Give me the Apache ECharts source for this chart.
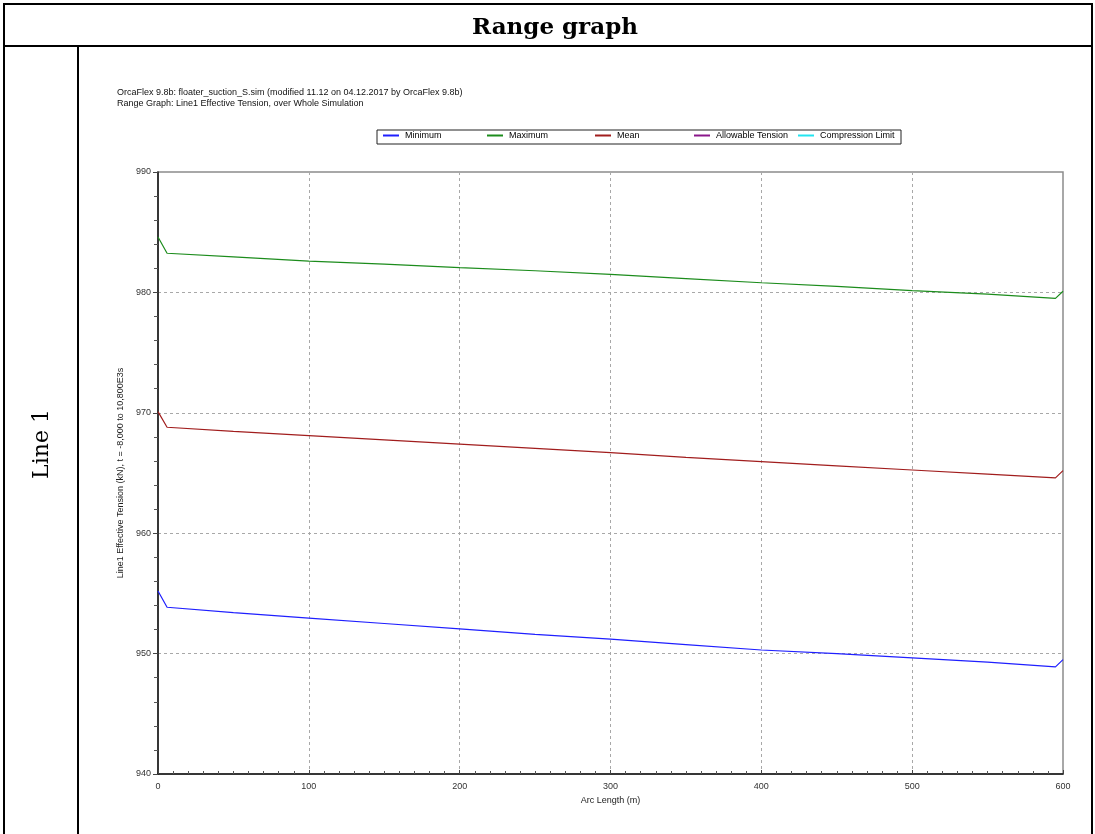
<!DOCTYPE html>
<html>
<head>
<meta charset="utf-8">
<title>Range graph</title>
<script src="https://cdn.jsdelivr.net/npm/echarts@6/dist/echarts.min.js"></script>
<style>
  html, body { margin: 0; padding: 0; background: #fff; }
  #chart { width: 1095px; height: 834px; }
</style>
</head>
<body>
<div id="chart"></div>
<script>
// Arc length stations (m)
const arcLength = [0, 6, 50, 100, 150, 200, 250, 300, 350, 400, 450, 500, 550, 595, 600];

// Effective tension envelopes (kN)
const minimumTension = [955.2, 953.85, 953.4, 952.95, 952.5, 952.05, 951.6, 951.2, 950.75, 950.3, 950.0, 949.65, 949.3, 948.9, 949.5];
const maximumTension = [984.6, 983.25, 982.95, 982.6, 982.35, 982.05, 981.8, 981.5, 981.15, 980.8, 980.5, 980.15, 979.85, 979.5, 980.1];
const meanTension    = [970.1, 968.8, 968.45, 968.1, 967.75, 967.4, 967.05, 966.7, 966.3, 965.95, 965.6, 965.25, 964.9, 964.6, 965.2];

const legendNames = ['Minimum', 'Maximum', 'Mean', 'Allowable Tension', 'Compression Limit'];
const legendColors = ['#1f1fff', '#1c8c1c', '#a11d1d', '#8a168a', '#22e5f0'];
const legendLeft = [383, 487, 595, 694, 798];

const pairs = (ys) => arcLength.map((x, i) => [x, ys[i]]);

const chart = echarts.init(document.getElementById('chart'));

const seriesData = [minimumTension, maximumTension, meanTension, [], []];

const option = {
  animation: false,
  backgroundColor: '#ffffff',
  textStyle: { fontFamily: 'Liberation Sans, Arial, sans-serif' },
  legend: legendNames.map((name, i) => ({
    data: [name],
    left: legendLeft[i],
    top: 131,
    itemWidth: 16,
    itemHeight: 2,
    itemGap: 0,
    icon: 'rect',
    selectedMode: false,
    padding: 0,
    textStyle: { fontSize: 9, color: '#000', fontFamily: 'Liberation Sans, Arial, sans-serif', padding: [0, 0, 0, 1] }
  })),
  grid: {
    left: 158, right: 32, top: 172, bottom: 60,
    show: true, borderColor: '#8c8c8c', borderWidth: 1.5, backgroundColor: 'transparent'
  },
  xAxis: {
    type: 'value',
    min: 0, max: 600, interval: 100,
    name: 'Arc Length (m)',
    nameLocation: 'middle',
    nameGap: 22,
    nameTextStyle: { fontSize: 9, color: '#222' },
    axisLine: { show: true, lineStyle: { color: '#111', width: 1.5 } },
    axisTick: { show: true, inside: true, length: 4, lineStyle: { color: '#444' } },
    minorTick: { show: true, splitNumber: 10, length: 3, lineStyle: { color: '#555' } },
    axisLabel: { fontSize: 9, color: '#333', margin: 8 },
    splitLine: { show: true, lineStyle: { color: '#a8a8a8', type: [3, 3], width: 1 } }
  },
  yAxis: {
    type: 'value',
    min: 940, max: 990, interval: 10,
    name: 'Line1 Effective Tension (kN), t = -8,000 to 10,800E3s',
    nameLocation: 'middle',
    nameGap: 27,
    nameRotate: 90,
    nameTextStyle: { fontSize: 9, color: '#222' },
    axisLine: { show: true, lineStyle: { color: '#111', width: 1.5 } },
    axisTick: { show: true, length: 5, lineStyle: { color: '#444' } },
    minorTick: { show: true, splitNumber: 5, length: 4, lineStyle: { color: '#555' } },
    axisLabel: { fontSize: 9, color: '#333', margin: 7 },
    splitLine: { show: true, lineStyle: { color: '#a8a8a8', type: [3, 3], width: 1 } }
  },
  series: legendNames.map((name, i) => ({
    name,
    type: 'line',
    data: pairs(seriesData[i]).filter(p => p[1] !== undefined),
    showSymbol: false,
    symbol: 'none',
    color: legendColors[i],
    lineStyle: { width: 1.2, color: legendColors[i] },
    itemStyle: { color: legendColors[i] },
    z: 3
  })),
  graphic: [
    // table frame
    { type: 'rect', shape: { x: 4, y: 4, width: 1088, height: 840 }, style: { fill: 'none', stroke: '#000', lineWidth: 2 }, silent: true },
    { type: 'line', shape: { x1: 4, y1: 46, x2: 1092, y2: 46 }, style: { stroke: '#000', lineWidth: 2 }, silent: true },
    { type: 'line', shape: { x1: 78, y1: 46, x2: 78, y2: 834 }, style: { stroke: '#000', lineWidth: 2 }, silent: true },
    {
      type: 'text', x: 555, y: 28,
      style: { text: 'Range graph', font: 'bold 23px "DejaVu Serif", Georgia, serif', fill: '#000', align: 'center', verticalAlign: 'middle' },
      silent: true
    },
    {
      type: 'text', x: 42, y: 444, rotation: Math.PI / 2,
      style: { text: 'Line 1', font: '22px "DejaVu Serif", Georgia, serif', fill: '#000', align: 'center', verticalAlign: 'middle' },
      silent: true
    },
    // run description
    {
      type: 'text', x: 117, y: 87,
      style: { text: 'OrcaFlex 9.8b: floater_suction_S.sim (modified 11.12 on 04.12.2017 by OrcaFlex 9.8b)\nRange Graph: Line1 Effective Tension, over Whole Simulation', font: '9px "Liberation Sans", Arial, sans-serif', fill: '#111', lineHeight: 11 },
      silent: true
    },
    // legend frame
    { type: 'rect', shape: { x: 377, y: 130, width: 524, height: 14 }, style: { fill: 'none', stroke: '#222', lineWidth: 1 }, silent: true }
  ]
};

chart.setOption(option);
</script>
</body>
</html>
